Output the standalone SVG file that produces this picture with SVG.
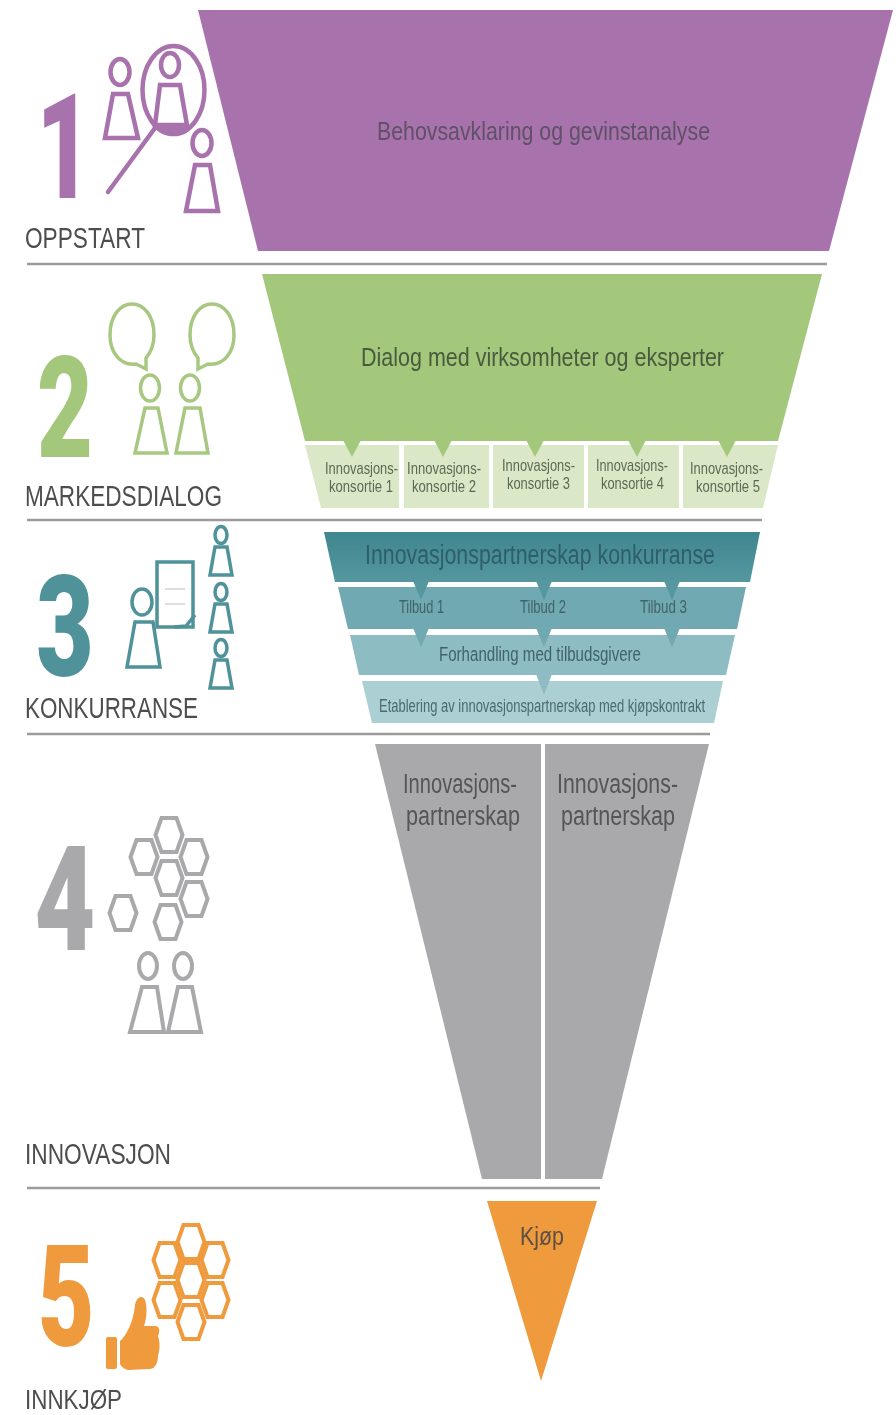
<svg xmlns="http://www.w3.org/2000/svg" width="896" height="1415" viewBox="0 0 896 1415">
<defs>
<filter id="soft" x="-2%" y="-2%" width="104%" height="104%"><feGaussianBlur stdDeviation="0.55"/></filter>
<linearGradient id="tealTop" x1="0" y1="0" x2="0" y2="1"><stop offset="0" stop-color="#3f8690"/><stop offset="1" stop-color="#55979f"/></linearGradient>
<polygon id="hex" points="-13.5,0 -7.5,-17 7.5,-17 13.5,0 7.5,17 -7.5,17"/>
</defs>
<style>
text{font-family:"Liberation Sans",Arial,sans-serif}
.lbl{font-size:29px;fill:#4d4d4d}
.num{font-size:146px;font-weight:900;font-family:Roboto,"Liberation Sans",sans-serif;text-anchor:middle}
.rule{stroke:#9b9b9b;stroke-width:2.5;fill:none}
.ic{fill:none;stroke-linejoin:miter}
.sm{font-size:17px;fill:#5c6b52}
.purple{stroke:#a872ac;stroke-width:4.5}
.green{stroke:#a8c882;stroke-width:3.5}
.teal{stroke:#4f929a;stroke-width:3.5}
.gray{stroke:#a9a9ab;stroke-width:4}
.orange{stroke:#ef9a3c;stroke-width:4}
</style>
<rect width="896" height="1415" fill="#fff"/>
<g filter="url(#soft)">
<g id="rules">
<path class="rule" d="M27 264H827M27 520H762M27 734H710M27 1188H600"/>
</g>
<g id="step1">
<polygon points="198,10 893,10 829,251 258,251" fill="#a872ac"/>
<text x="377" y="140" font-size="25" fill="#5e5166" textLength="333" lengthAdjust="spacingAndGlyphs">Behovsavklaring og gevinstanalyse</text>
<text class="num" fill="#a872ac" transform="translate(64 198) scale(.65 1)">1</text>
<g class="ic purple">
<ellipse cx="120" cy="72" rx="9.5" ry="13"/><polygon points="113,94 128,94 138,138 105,138"/>
<ellipse cx="170" cy="65" rx="9" ry="12"/><polygon points="160,85 180,85 187,125 155,125"/>
<ellipse cx="202" cy="143" rx="9.5" ry="13"/><polygon points="195,165 210,165 218,211 186,211"/>
<ellipse cx="173.500" cy="90" rx="31" ry="44"/><path d="M155 128L108 192" stroke-linecap="round"/>
</g>
<path d="M155 125H190C186 131 180 134 173 134C165 134 159 131 155 125Z" fill="#a872ac"/>
<text class="lbl" x="25" y="248" textLength="120" lengthAdjust="spacingAndGlyphs">OPPSTART</text>
</g>
<g id="step2">
<polygon points="262,274 822,274 778,441 305,441" fill="#a3c87c"/>
<text x="361" y="366" font-size="25" fill="#4a5a3e" textLength="363" lengthAdjust="spacingAndGlyphs">Dialog med virksomheter og eksperter</text>
<g fill="#dbe8c8">
<polygon points="305,445 399,445 399,508 321,508"/>
<rect x="404" y="445" width="85" height="63"/>
<rect x="493" y="445" width="91" height="63"/>
<rect x="588" y="445" width="91" height="63"/>
<polygon points="683,445 778,445 763,508 683,508"/>
</g>
<g fill="#a3c87c">
<polygon points="343,440 361,440 352,457"/>
<polygon points="434,440 452,440 443,457"/>
<polygon points="526,440 544,440 535,457"/>
<polygon points="628,440 646,440 637,457"/>
<polygon points="718,440 736,440 727,457"/>
</g>
<g class="sm">
<text x="325" y="474" textLength="73" lengthAdjust="spacingAndGlyphs">Innovasjons-</text><text x="329" y="492" textLength="64" lengthAdjust="spacingAndGlyphs">konsortie 1</text>
<text x="407" y="474" textLength="74" lengthAdjust="spacingAndGlyphs">Innovasjons-</text><text x="412" y="492" textLength="64" lengthAdjust="spacingAndGlyphs">konsortie 2</text>
<text x="502" y="471" textLength="73" lengthAdjust="spacingAndGlyphs">Innovasjons-</text><text x="507" y="489" textLength="63" lengthAdjust="spacingAndGlyphs">konsortie 3</text>
<text x="596" y="471" textLength="72" lengthAdjust="spacingAndGlyphs">Innovasjons-</text><text x="601" y="489" textLength="63" lengthAdjust="spacingAndGlyphs">konsortie 4</text>
<text x="690" y="474" textLength="73" lengthAdjust="spacingAndGlyphs">Innovasjons-</text><text x="696" y="492" textLength="64" lengthAdjust="spacingAndGlyphs">konsortie 5</text>
</g>
<text class="num" fill="#a3c87c" transform="translate(65 457) scale(.66 .97)">2</text>
<g class="ic green">
<path d="M146 369L136 364C120 366 110 352 110 335C110 316 120 304 132 304C144 304 154 316 154 335C154 344 151 352 146 358Z"/>
<path d="M198 369L208 364C224 366 234 352 234 335C234 316 224 304 212 304C200 304 190 316 190 335C190 344 193 352 198 358Z"/>
<ellipse cx="150" cy="388" rx="9.500" ry="13"/><polygon points="145,408 158,408 167,453 135,453"/>
<ellipse cx="190" cy="388" rx="9.500" ry="13"/><polygon points="185,408 200,408 208,453 176,453"/>
</g>
<text class="lbl" x="25" y="506" textLength="197" lengthAdjust="spacingAndGlyphs">MARKEDSDIALOG</text>
</g>
<g id="step3">
<polygon points="324,532 760,532 750,582 335,582" fill="url(#tealTop)"/>
<polygon points="338,587 746,587 737,629 348,629" fill="#70a9b1"/>
<polygon points="350,635 735,635 726,675 359,675" fill="#8dbcc2"/>
<polygon points="362,681 723,681 714,723 372,723" fill="#abcfd3"/>
<g fill="#55979f">
<polygon points="413,581 429,581 421,600"/><polygon points="536,581 552,581 544,600"/><polygon points="664,581 680,581 672,600"/>
</g>
<g fill="#70a9b1">
<polygon points="413,628 429,628 421,647"/><polygon points="536,628 552,628 544,647"/><polygon points="664,628 680,628 672,647"/>
</g>
<polygon points="536,674 552,674 544,695" fill="#8dbcc2"/>
<text x="365" y="564" font-size="27" fill="#2f5f68" textLength="350" lengthAdjust="spacingAndGlyphs">Innovasjonspartnerskap konkurranse</text>
<g font-size="18" fill="#3f6369">
<text x="399" y="613" textLength="45" lengthAdjust="spacingAndGlyphs">Tilbud 1</text>
<text x="520" y="613" textLength="46" lengthAdjust="spacingAndGlyphs">Tilbud 2</text>
<text x="640" y="613" textLength="47" lengthAdjust="spacingAndGlyphs">Tilbud 3</text>
</g>
<text x="439" y="661" font-size="20" fill="#3f6369" textLength="202" lengthAdjust="spacingAndGlyphs">Forhandling med tilbudsgivere</text>
<text x="379" y="712" font-size="18" fill="#4a6a70" textLength="326" lengthAdjust="spacingAndGlyphs">Etablering av innovasjonspartnerskap med kjøpskontrakt</text>
<text class="num" fill="#4f929a" transform="translate(65 676) scale(.68 .97)">3</text>
<g class="ic teal">
<rect x="157" y="562" width="36" height="65"/>
<path d="M174 627L186 626L195 615" />
<ellipse cx="142" cy="602" rx="10" ry="13"/><polygon points="135,622 153,622 160,667 127,667"/>
<ellipse cx="221" cy="535" rx="6" ry="8.500"/><polygon points="215,547 227,547 232,575 210,575"/>
<ellipse cx="221" cy="592" rx="6" ry="8.500"/><polygon points="215,604 227,604 232,632 210,632"/>
<ellipse cx="221" cy="648" rx="6" ry="8.500"/><polygon points="215,660 227,660 232,688 210,688"/>
</g>
<path d="M165 589H185M165 604H185" stroke="#d4d4d4" stroke-width="1.500" fill="none"/>
<text class="lbl" x="25" y="718" textLength="173" lengthAdjust="spacingAndGlyphs">KONKURRANSE</text>
</g>
<g id="step4">
<polygon points="375,744 541,744 541,1179 482,1179" fill="#a9a9ab"/>
<polygon points="545,744 709,744 602,1179 545,1179" fill="#a9a9ab"/>
<g font-size="27" fill="#555557">
<text x="403" y="793" textLength="114" lengthAdjust="spacingAndGlyphs">Innovasjons-</text>
<text x="406" y="825" textLength="114" lengthAdjust="spacingAndGlyphs">partnerskap</text>
<text x="557" y="793" textLength="121" lengthAdjust="spacingAndGlyphs">Innovasjons-</text>
<text x="561" y="825" textLength="114" lengthAdjust="spacingAndGlyphs">partnerskap</text>
</g>
<text class="num" fill="#a9a9ab" transform="translate(65 950) scale(.72 1)">4</text>
<g class="ic gray">
<use href="#hex" x="169" y="835"/><use href="#hex" x="144" y="857"/><use href="#hex" x="194" y="857"/>
<use href="#hex" x="169" y="878"/><use href="#hex" x="194" y="899"/><use href="#hex" x="168" y="922"/><use href="#hex" x="123" y="913"/>
<ellipse cx="148" cy="966" rx="9" ry="13"/><polygon points="142,987 157,987 164,1032 130,1032"/>
<ellipse cx="183" cy="966" rx="9" ry="13"/><polygon points="178,987 192,987 201,1032 168,1032"/>
</g>
<text class="lbl" x="25" y="1164" textLength="146" lengthAdjust="spacingAndGlyphs">INNOVASJON</text>
</g>
<g id="step5">
<polygon points="487,1201 597,1201 541,1381" fill="#ef9a3c"/>
<text x="520" y="1245" font-size="25" fill="#5b5045" textLength="44" lengthAdjust="spacingAndGlyphs">Kjøp</text>
<text class="num" fill="#ef9a3c" transform="translate(66 1346) scale(.67 .97)">5</text>
<g class="ic orange">
<use href="#hex" x="191" y="1242"/><use href="#hex" x="167" y="1260"/><use href="#hex" x="215" y="1260"/>
<use href="#hex" x="191" y="1280"/><use href="#hex" x="167" y="1300"/><use href="#hex" x="215" y="1300"/><use href="#hex" x="191" y="1322"/>
</g>
<g id="thumb" fill="#ef9a3c">
<rect x="106" y="1337" width="11" height="32" rx="2"/>
<path d="M120 1341C127 1335 133 1322 135 1306C136 1296 143 1295 145 1300C148 1310 146 1320 144 1326L156 1326C160 1327 160 1332 158 1336C160 1342 160 1350 158 1355C158 1362 156 1368 150 1369L128 1370C124 1369 121 1366 120 1364Z"/>
</g>
<text x="25" y="1409" font-size="27" fill="#4d4d4d" textLength="97" lengthAdjust="spacingAndGlyphs">INNKJØP</text>
</g>
</g>
</svg>
